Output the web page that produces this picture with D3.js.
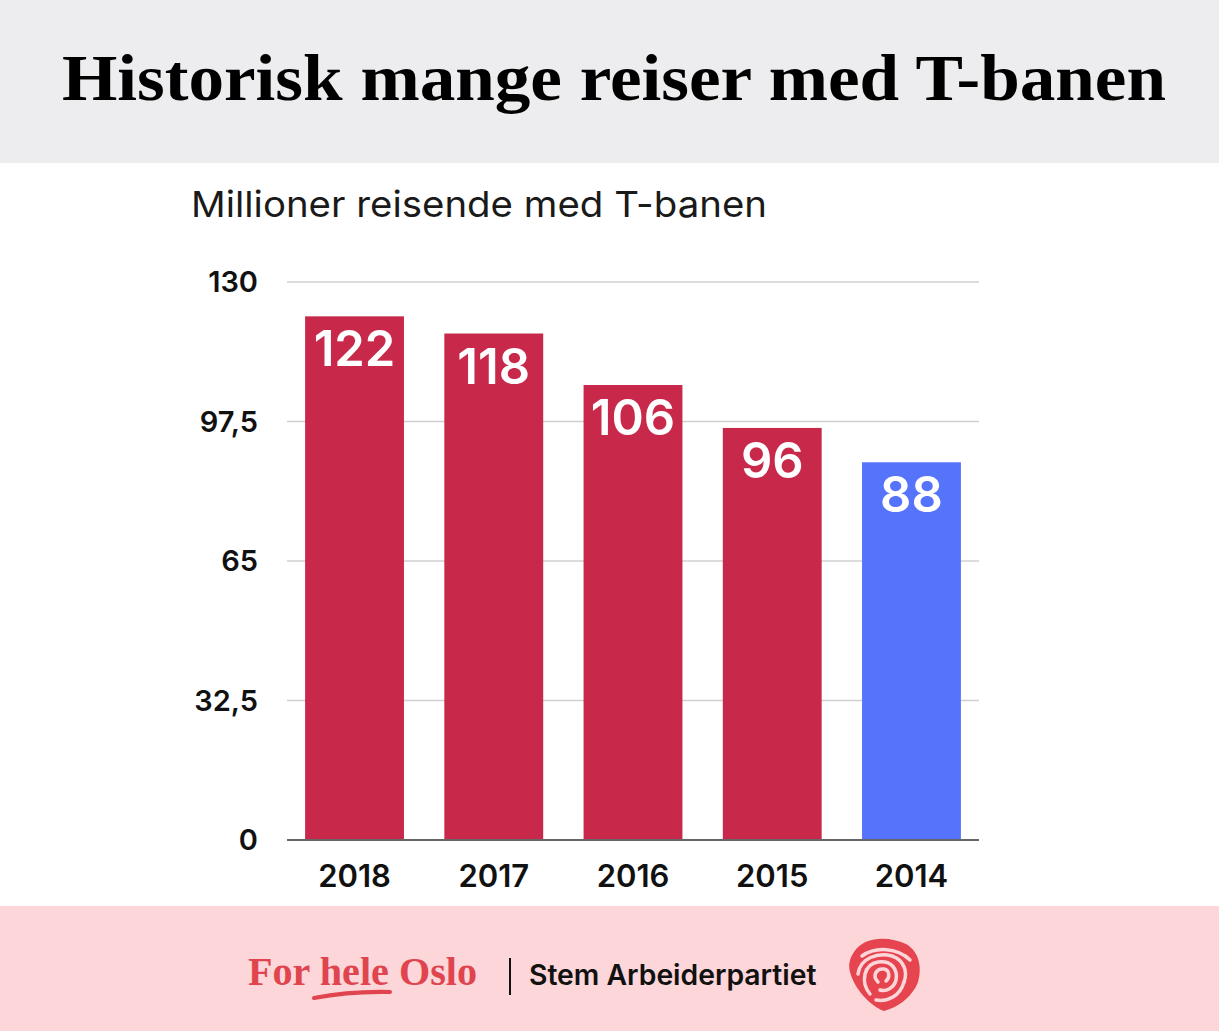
<!DOCTYPE html>
<html>
<head>
<meta charset="utf-8">
<script src="https://cdn.jsdelivr.net/npm/d3@7"></script>
<style>
  html, body { margin: 0; padding: 0; background: #fff; }
  svg { display: block; }
</style>
</head>
<body>
<div id="chart"></div>
<script>
// Data
const years = ['2018', '2017', '2016', '2015', '2014'];
const riders = [122, 118, 106, 96, 88];
const yTicks = [0, 32.5, 65, 97.5, 130];
const barColors = ['#c8284a', '#c8284a', '#c8284a', '#c8284a', '#5573fb'];

const W = 1219, H = 1031;
const sans = 'Inter, Roboto, "Noto Sans", sans-serif';
const serif = '"Liberation Serif", "DejaVu Serif", serif';

const svg = d3.select('#chart').append('svg')
    .attr('width', W)
    .attr('height', H);

// Header band
svg.append('rect')
    .attr('width', W).attr('height', 163)
    .attr('fill', '#ededef');

svg.append('text')
    .attr('x', 62).attr('y', 100)
    .attr('textLength', 1104)
    .attr('lengthAdjust', 'spacingAndGlyphs')
    .attr('font-family', serif)
    .attr('font-weight', 'bold')
    .attr('font-size', 66)
    .attr('fill', '#000')
    .text('Historisk mange reiser med T-banen');

// Footer band
svg.append('rect')
    .attr('y', 906).attr('width', W).attr('height', H - 906)
    .attr('fill', '#fcd6d8');

// Subtitle
svg.append('text')
    .attr('x', 191).attr('y', 217)
    .attr('textLength', 576)
    .attr('lengthAdjust', 'spacingAndGlyphs')
    .attr('font-family', sans)
    .attr('font-size', 36)
    .attr('fill', '#1a1a1a')
    .text('Millioner reisende med T-banen');

// Scales
const x = d3.scaleBand()
    .domain(years)
    .range([287, 979])
    .paddingInner(0.29)
    .paddingOuter(0.13);

const y = d3.scaleLinear()
    .domain([0, 130])
    .range([840, 282]);

// Gridlines
svg.append('g')
  .selectAll('line')
  .data(yTicks.filter(d => d > 0))
  .join('line')
    .attr('x1', 287).attr('x2', 979)
    .attr('y1', d => y(d)).attr('y2', d => y(d))
    .attr('stroke', '#d0d0d0')
    .attr('stroke-width', 1.5);

// Y axis labels
const fmt = d => String(d).replace('.', ',');
svg.append('g')
  .selectAll('text')
  .data(yTicks)
  .join('text')
    .attr('x', 258)
    .attr('y', d => y(d))
    .attr('dy', '0.35em')
    .attr('text-anchor', 'end')
    .attr('font-family', sans)
    .attr('font-weight', 600)
    .attr('font-size', 29)
    .attr('fill', '#111')
    .text(fmt);

// Bars
svg.append('g')
  .selectAll('rect')
  .data(riders)
  .join('rect')
    .attr('x', (d, i) => x(years[i]))
    .attr('y', d => y(d))
    .attr('width', x.bandwidth())
    .attr('height', d => y(0) - y(d))
    .attr('fill', (d, i) => barColors[i]);

// Value labels inside bars
svg.append('g')
  .selectAll('text')
  .data(riders)
  .join('text')
    .attr('x', (d, i) => x(years[i]) + x.bandwidth() / 2)
    .attr('y', d => y(d) + 50)
    .attr('text-anchor', 'middle')
    .attr('font-family', sans)
    .attr('font-weight', 600)
    .attr('font-size', 49)
    .attr('fill', '#fff')
    .text(d => d);

// Baseline
svg.append('line')
    .attr('x1', 287).attr('x2', 979)
    .attr('y1', y(0)).attr('y2', y(0))
    .attr('stroke', '#666')
    .attr('stroke-width', 2);

// X axis labels
svg.append('g')
  .selectAll('text')
  .data(years)
  .join('text')
    .attr('x', d => x(d) + x.bandwidth() / 2)
    .attr('y', 876)
    .attr('dy', '0.35em')
    .attr('text-anchor', 'middle')
    .attr('font-family', sans)
    .attr('font-weight', 600)
    .attr('font-size', 31)
    .attr('fill', '#111')
    .text(d => d);

// Footer: slogan
svg.append('text')
    .attr('x', 248).attr('y', 985)
    .attr('textLength', 229)
    .attr('lengthAdjust', 'spacingAndGlyphs')
    .attr('font-family', serif)
    .attr('font-weight', 'bold')
    .attr('font-size', 40)
    .attr('fill', '#e0454f')
    .text('For hele Oslo');

svg.append('path')
    .attr('d', 'M 314 998 Q 350 991 390 992')
    .attr('fill', 'none')
    .attr('stroke', '#e0454f')
    .attr('stroke-width', 4)
    .attr('stroke-linecap', 'round');

svg.append('line')
    .attr('x1', 510).attr('x2', 510)
    .attr('y1', 958).attr('y2', 995)
    .attr('stroke', '#111')
    .attr('stroke-width', 2);

svg.append('text')
    .attr('x', 529).attr('y', 985)
    .attr('font-family', sans)
    .attr('font-weight', 600)
    .attr('font-size', 28.3)
    .attr('fill', '#111')
    .text('Stem Arbeiderpartiet');

// Rose logo
const rose = svg.append('g')
    .attr('transform', 'translate(884,974)');

rose.append('path')
    .attr('d', 'M -30 -22 C -20 -38 5 -38 22 -30 C 36 -22 38 -5 34 8 C 28 24 12 34 0 37 C -14 32 -30 14 -34 -2 C -36 -10 -34 -16 -30 -22 Z')
    .attr('fill', '#e6454f');

const swirl = [
  'M -22 -18 C -8 -28 14 -26 26 -14',
  'M -26 0 C -24 -16 -6 -22 8 -18 C 20 -14 24 -2 20 8',
  'M -14 20 C -24 8 -20 -10 -6 -12 C 8 -14 14 -4 12 6 C 10 14 2 18 -4 16',
  'M -6 8 C -12 2 -8 -6 0 -5 C 6 -4 6 4 2 7',
  'M 20 8 C 16 22 4 28 -8 26'
];
rose.selectAll('.swirl')
  .data(swirl)
  .join('path')
    .attr('class', 'swirl')
    .attr('d', d => d)
    .attr('fill', 'none')
    .attr('stroke', '#fcd6d8')
    .attr('stroke-width', 3.5)
    .attr('stroke-linecap', 'round');
</script>
</body>
</html>
